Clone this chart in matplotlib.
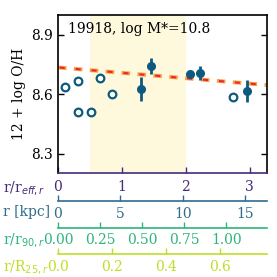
import numpy as np
import matplotlib
matplotlib.use("Agg")
import matplotlib.pyplot as plt

# data (x in r/r_eff,r)
open_x = [0.11, 0.31, 0.31, 0.52, 0.66, 0.85, 2.73]
open_y = [8.637, 8.664, 8.508, 8.509, 8.681, 8.602, 8.588]
fill_x = [1.29, 1.45, 2.07, 2.22, 2.95]
fill_y = [8.625, 8.743, 8.703, 8.705, 8.617]
fill_err = [0.060, 0.042, 0.010, 0.036, 0.057]
fit_x = [0.0, 3.26]
fit_y = [8.735, 8.646]
shade = [0.5, 2.0]

kpc_per_reff = 5.12
r90_per_reff = 1 / 2.63
r25_per_reff = 1 / 4.22

kpc_ticks = [0, 5, 10, 15]
r90_ticks = [0.0, 0.25, 0.5, 0.75, 1.0]
r25_ticks = [0.0, 0.2, 0.4, 0.6]

plt.rcParams["font.family"] = "DejaVu Serif"

cmap = plt.get_cmap("viridis")
c_eff, c_kpc, c_90, c_25 = cmap(0.12), cmap(0.35), cmap(0.65), cmap(0.9)
pt_col = "#0e5a7e"

fig = plt.figure(figsize=(2.77, 2.77), dpi=100)
ax = fig.add_axes([58 / 277, (277 - 173.3) / 277, 208.5 / 277, 158.3 / 277])

ax.axvspan(shade[0], shade[1], color="#fef8dd", lw=0, zorder=0)
ax.plot(fit_x, fit_y, color="#f7a04a", lw=2.8, ls=(0, (2.2, 1.9)), zorder=2)
ax.plot(fit_x, fit_y, color="#e8292a", lw=1.5, ls=(6.83, (2.4, 5.27)), zorder=3)
ax.plot(open_x, open_y, "o", mfc="white", mec=pt_col, mew=1.6, ms=5.5, zorder=4)
ax.errorbar(fill_x, fill_y, yerr=fill_err, fmt="o", color=pt_col, ms=5.5,
            elinewidth=2, capsize=0, zorder=4)

ax.set_xlim(0, 3.26)
ax.set_ylim(8.2, 9.0)
ax.set_yticks([8.3, 8.6, 8.9])
ax.set_xticks([0, 1, 2, 3])
ax.tick_params(axis="y", direction="in", right=True, labelsize=10, length=4, width=1)
ax.tick_params(axis="x", direction="in", colors=c_eff, labelcolor=c_eff,
               labelsize=10, length=4, width=1, pad=5)
ax.spines["bottom"].set_color(c_eff)
for s in ax.spines.values():
    s.set_linewidth(1.2)
ax.set_ylabel("12 + log O/H", fontsize=10)
ax.text(0.05, 0.955, "19918, log M*=10.8", transform=ax.transAxes,
        fontsize=10, va="top")


def add_sec(loc, scale, ticks, col, fmt):
    sec = ax.secondary_xaxis(loc, functions=(lambda x: x * scale, lambda x: x / scale))
    sec.set_xticks(ticks)
    sec.set_xticklabels([fmt.format(t) for t in ticks])
    sec.tick_params(direction="in", colors=col, labelcolor=col, labelsize=10,
                    length=4, width=1, pad=4)
    sec.spines["bottom"].set_color(col)
    sec.spines["bottom"].set_linewidth(1.2)
    return sec


add_sec(-0.175, kpc_per_reff, kpc_ticks, c_kpc, "{:g}")
add_sec(-0.344, r90_per_reff, r90_ticks, c_90, "{:.2f}")
add_sec(-0.51, r25_per_reff, r25_ticks, c_25, "{:.1f}")

fig.text(3 / 277, 1 - 188 / 277, r"r/r$_{eff,r}$", color=c_eff, fontsize=10, va="center")
fig.text(3 / 277, 1 - 212 / 277, "r [kpc]", color=c_kpc, fontsize=10, va="center")
fig.text(3 / 277, 1 - 240 / 277, r"r/r$_{90,r}$", color=c_90, fontsize=10, va="center")
fig.text(3 / 277, 1 - 267 / 277, r"r/R$_{25,r}$", color=c_25, fontsize=10, va="center")

fig.savefig("out.png", dpi=100)
